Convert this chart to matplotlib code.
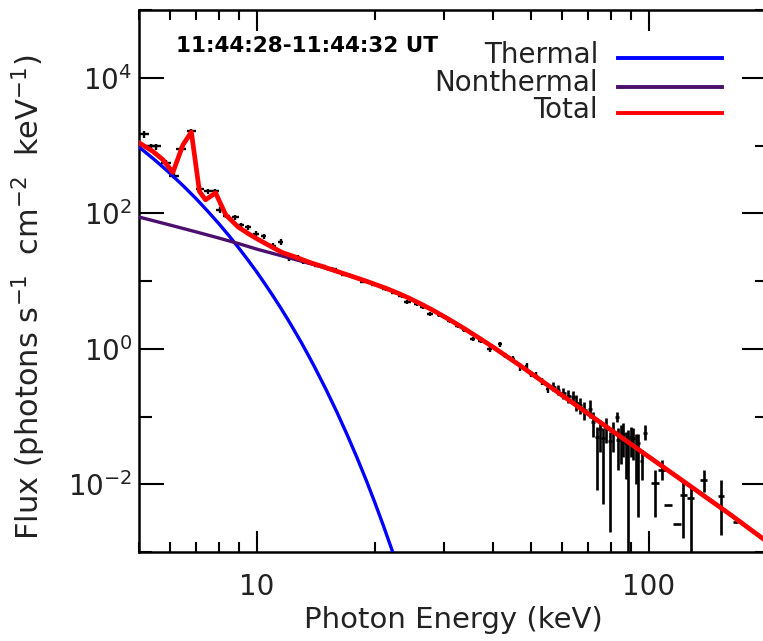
import numpy as np
import matplotlib
matplotlib.use("Agg")
import matplotlib.pyplot as plt
from matplotlib.lines import Line2D

# model curves, photon energy (keV) vs flux (photons s^-1 cm^-2 keV^-1)
thermal_e = [5.0, 5.5, 6.0, 6.5, 7.0, 7.5, 8.0, 8.5, 9.0, 9.5, 10.0, 10.5, 11.0, 11.5, 12.0, 12.5,
             13.0, 13.5, 14.0, 15.0, 16.0, 17.0, 18.0, 19.0, 20.0, 21.0, 22.0, 23.0]
thermal_f = [950, 604, 388, 250, 163, 106, 69.7, 45.9, 30.3, 20.1, 13.4, 8.90, 5.94, 3.98, 2.67, 1.79,
             1.21, 0.812, 0.548, 0.250, 0.115, 0.0529, 0.0245, 0.0114, 5.28e-3, 2.46e-3, 1.15e-3, 5.4e-4]

nonthermal_e = [5, 6, 7, 8, 9, 10, 12, 14.4, 17, 19, 21.3, 23, 24.5, 26.5, 28.4, 31, 34, 37, 40,
                46.8, 55.8, 64, 80, 94.8, 130, 160, 200]
nonthermal_f = [88, 67, 53, 43, 35.5, 29.5, 22.2, 16.6, 12.3, 9.95, 7.83, 6.53, 5.54, 4.43, 3.58, 2.68, 1.94,
                1.42, 1.06, 0.570, 0.277, 0.158, 0.0632, 0.0315, 0.00865, 0.00369, 0.00142]

total_e = [5.0, 5.42, 5.75, 6.1, 6.47, 6.80, 7.13, 7.39, 7.84, 8.32, 8.94, 9.5, 10.07, 11.0, 11.6, 12.5,
           13.7, 14.4, 17, 19, 21.3, 23, 24.5, 26.5, 28.4, 31, 34, 37, 40,
           46.8, 55.8, 64, 80, 94.8, 130, 160, 200]
total_f = [1100, 820, 620, 400, 1020, 1580, 210, 158, 200, 95, 63, 50, 41, 31, 26.3, 22.7,
           18.6, 17.0, 12.35, 9.95, 7.83, 6.53, 5.54, 4.43, 3.58, 2.68, 1.94, 1.42, 1.06,
           0.570, 0.277, 0.158, 0.0632, 0.0315, 0.00865, 0.00369, 0.00142]

# observed spectrum, 1/3 keV bins
low_e = [5.14, 5.37, 5.53, 5.86, 6.15, 6.40, 6.80, 7.14, 7.50, 7.83, 8.03, 8.35, 8.8, 9.12, 9.48, 9.96,
         10.4, 11.0, 11.5, 12.1, 12.7, 13.1, 13.6]
low_f = [1480, 970, 970, 550, 360, 890, 1610, 230, 210, 210, 112, 92, 87, 66, 62, 50,
         46, 33, 38, 21.5, 22, 19.5, 19]
low_rel = [0.12, 0.10, 0.10, 0.10, 0.10, 0.10, 0.08, 0.09, 0.09, 0.09, 0.09, 0.09, 0.09, 0.09, 0.09, 0.09,
           0.09, 0.09, 0.09, 0.09, 0.09, 0.09, 0.09]

# 1 keV bins
mid_e = [14.5, 15.5, 16.9, 18.8, 20.0, 21.3, 22.5, 23.4, 24.2, 25.6, 26.5, 27.6, 29.2, 31.0, 32.5, 33.8,
         35.5, 37.2, 39.2, 41.6, 42.8, 45.0, 47.0, 48.7, 50.0, 51.6, 53.4, 55.2]
mid_f = [16.8, 15.2, 12.3, 9.8, 8.8, 7.5, 6.7, 6.0, 4.9, 4.6, 4.1, 3.25, 3.1, 2.6, 2.15, 1.9,
         1.40, 1.32, 0.99, 1.17, 0.80, 0.71, 0.53, 0.56, 0.43, 0.40, 0.33, 0.255]
mid_rel = [0.05, 0.05, 0.05, 0.05, 0.05, 0.05, 0.05, 0.05, 0.06, 0.06, 0.06, 0.06, 0.06, 0.07, 0.07, 0.07,
           0.08, 0.08, 0.08, 0.09, 0.09, 0.10, 0.10, 0.11, 0.11, 0.12, 0.12, 0.13]

high_e = [56.9, 58.5, 60.4, 62.2, 64.0, 65.3, 66.6, 68.4, 70.6, 72.0, 73.5, 74.8, 76.4, 77.8, 79.5, 81.0,
          82.7, 83.5, 85.0, 86.0, 87.2, 88.5, 89.8, 91.2, 92.5, 93.9, 95.8, 97.7]
high_f = [0.275, 0.25, 0.22, 0.20, 0.195, 0.16, 0.147, 0.125, 0.13, 0.082, 0.050, 0.065, 0.048, 0.07, 0.043, 0.06,
          0.10, 0.045, 0.052, 0.056, 0.04, 0.045, 0.05, 0.048, 0.035, 0.040, 0.022, 0.058]
high_lo = [0.235, 0.21, 0.18, 0.16, 0.155, 0.12, 0.11, 0.088, 0.095, 0.05, 0.0082, 0.03, 0.0052, 0.04, 0.002, 0.03,
           0.084, 0.016, 0.02, 0.025, 0.012, 0.0008, 0.025, 0.023, 0.01, 0.0033, 0.0115, 0.045]
high_hi = [0.32, 0.295, 0.265, 0.245, 0.24, 0.205, 0.19, 0.165, 0.175, 0.115, 0.071, 0.09, 0.067, 0.095, 0.060, 0.082,
           0.118, 0.067, 0.075, 0.079, 0.06, 0.063, 0.07, 0.067, 0.055, 0.056, 0.032, 0.075]

# wide bins above 100 keV
top_e = [103.6, 107.8, 112.0, 117.7, 122.4, 127.8, 137.7, 152.6, 166.0]
top_f = [0.0103, 0.0162, 0.0049, 0.0026, 0.0069, 0.0062, 0.0115, 0.0067, 0.0028]
top_lo = [0.0033, 0.0115, 0.0049, 0.0026, 0.0016, 0.0008, 0.0078, 0.0018, 0.0028]
top_hi = [0.0162, 0.0227, 0.0049, 0.0026, 0.0115, 0.0092, 0.0162, 0.0115, 0.0028]

plt.rcParams['font.family'] = 'DejaVu Sans'
plt.rcParams['font.size'] = 20

fig = plt.figure(figsize=(7.63, 6.41), dpi=100)
ax = fig.add_axes([0.1822, 0.1388, 0.8231, 0.8456])

ebar = dict(fmt='none', ecolor='k', capsize=0, zorder=2)
lf = np.array(low_f)
ax.errorbar(low_e, low_f, yerr=lf * np.array(low_rel), xerr=0.17, elinewidth=1.7, **ebar)
mf = np.array(mid_f)
ax.errorbar(mid_e, mid_f, yerr=mf * np.array(mid_rel), xerr=0.5, elinewidth=1.7, **ebar)
hf = np.array(high_f)
ax.errorbar(high_e, high_f, yerr=[hf - np.array(high_lo), np.array(high_hi) - hf], xerr=0.9,
            elinewidth=1.9, **ebar)
tf = np.array(top_f)
ax.errorbar(top_e, top_f, yerr=[tf - np.array(top_lo), np.array(top_hi) - tf], xerr=2.6,
            elinewidth=1.9, **ebar)

blue = '#0000ff'
purple = '#4b0f6e'
red = '#ff0000'
ax.plot(thermal_e, thermal_f, color=blue, lw=2.4, zorder=3)
ax.plot(nonthermal_e, nonthermal_f, color=purple, lw=2.4, zorder=3)
ax.plot(total_e, total_f, color=red, lw=3.4, zorder=4)

ax.set_xscale('log')
ax.set_yscale('log')
ax.set_xlim(5, 200)
ax.set_ylim(1e-3, 1e5)

ax.set_xticks([10, 100])
ax.set_xticklabels(['10', '100'])
ax.set_xticks([5, 6, 7, 8, 9, 20, 30, 40, 50, 60, 70, 80, 90, 200], minor=True)
ax.xaxis.set_minor_formatter(plt.NullFormatter())
ax.set_yticks([1e-2, 1e0, 1e2, 1e4])
ax.set_yticklabels(['$10^{-2}$', '$10^{0}$', '$10^{2}$', '$10^{4}$'])
ax.set_yticks([1e-3, 1e-1, 1e1, 1e3, 1e5], minor=True)
ax.yaxis.set_minor_formatter(plt.NullFormatter())

ax.tick_params(which='both', direction='in', top=True, right=True, width=1.5, labelsize=20,
               labelcolor='#222222')
ax.tick_params(axis='x', which='major', length=15, pad=15)
ax.tick_params(axis='x', which='minor', length=7.5)
ax.tick_params(axis='y', which='major', length=18, pad=5)
ax.tick_params(axis='y', which='minor', length=9)
for s in ax.spines.values():
    s.set_linewidth(1.8)

ax.set_xlabel('Photon Energy (keV)', fontsize=21, color='#222222')
ax.xaxis.set_label_coords(0.5, -0.10)
ax.set_ylabel('Flux (photons s$^{-1}$  cm$^{-2}$  keV$^{-1}$)', fontsize=22, color='#222222')
ax.yaxis.set_label_coords(-0.145, 0.47)

ax.text(0.059, 0.934, '11:44:28-11:44:32 UT', transform=ax.transAxes, fontsize=15.5,
        fontweight='bold', ha='left', va='center')

legend_items = [('Thermal', blue, 0.917, 0.911),
                ('Nonthermal', purple, 0.865, 0.858),
                ('Total', red, 0.8155, 0.810)]
for label, col, ty, ly in legend_items:
    ax.text(0.731, ty, label, transform=ax.transAxes, fontsize=20, ha='right', va='center', color='#222222')
    ax.add_line(Line2D([0.763, 0.928], [ly, ly], transform=ax.transAxes, color=col, lw=2.8))

fig.savefig('out.png', dpi=100)
